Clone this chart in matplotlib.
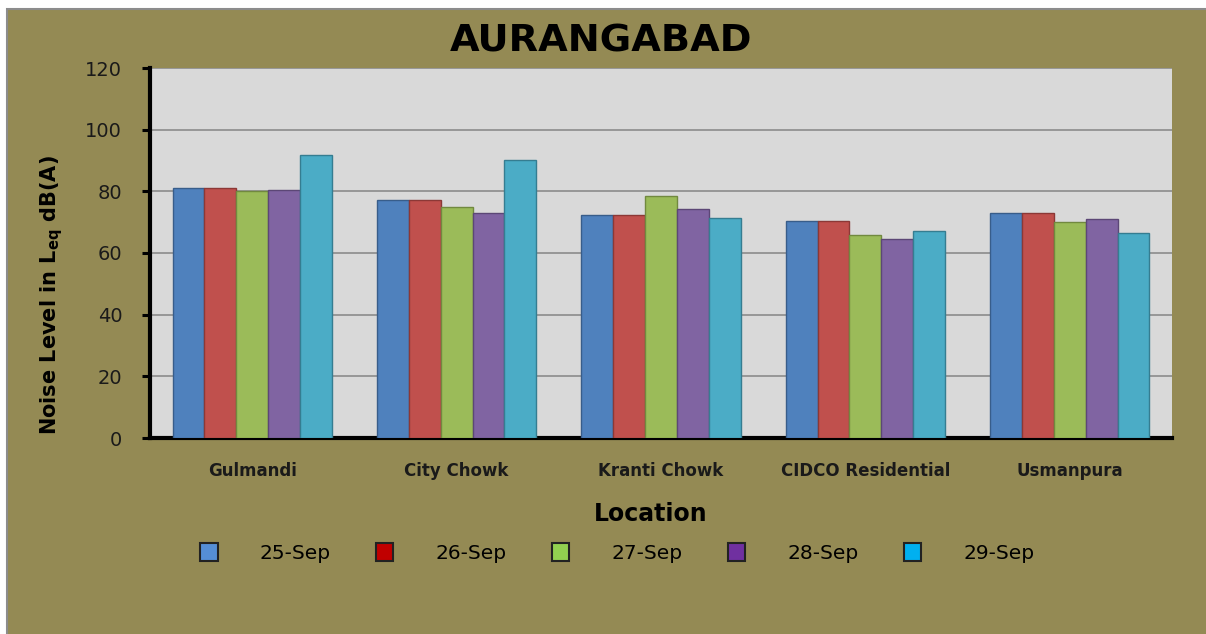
import numpy as np
import matplotlib
matplotlib.use('Agg')
import matplotlib.pyplot as plt
from matplotlib.patches import Rectangle, Patch

# Datos
locations = ['Gulmandi', 'City Chowk', 'Kranti Chowk', 'CIDCO Residential', 'Usmanpura']
dates = ['25-Sep', '26-Sep', '27-Sep', '28-Sep', '29-Sep']
sep25 = [81.0, 77.1, 72.4, 70.4, 73.0]
sep26 = [81.0, 77.1, 72.4, 70.4, 73.0]
sep27 = [80.0, 74.8, 78.5, 66.0, 70.1]
sep28 = [80.4, 73.1, 74.4, 64.5, 71.1]
sep29 = [91.8, 90.1, 71.5, 67.1, 66.5]
yticks = [0, 20, 40, 60, 80, 100, 120]

series = [sep25, sep26, sep27, sep28, sep29]
bar_colors = ['#4F81BD', '#C0504D', '#9BBB59', '#8064A2', '#4BACC6']
edge_colors = ['#385D8A', '#8C3836', '#71893F', '#5C4776', '#357D91']
legend_colors = ['#558ED5', '#C00000', '#92D050', '#7030A0', '#00B0F0']

plt.rcParams['mathtext.fontset'] = 'dejavusans'

fig = plt.figure(figsize=(12.06, 6.34), dpi=100, facecolor='white')

# Panel de fondo color oliva (sale por la derecha y por abajo)
panel = Rectangle((7 / 1206, -0.05), 1.1, 1 - 9 / 634 + 0.05, transform=fig.transFigure,
                  facecolor='#948A54', edgecolor='#8C8C8C', linewidth=1.5, zorder=-10)
fig.patches.append(panel)

ax = fig.add_axes([150 / 1206, 1 - 438 / 634, (1172 - 150) / 1206, (438 - 68) / 634])
ax.set_facecolor('#D9D9D9')

x = np.arange(len(locations))
ancho = 0.1556
for i, vals in enumerate(series):
    ax.bar(x + (i - 2) * ancho, vals, width=ancho, color=bar_colors[i],
           edgecolor=edge_colors[i], linewidth=1.0, zorder=3)

ax.set_xlim(-0.5, len(locations) - 0.5)
ax.set_ylim(0, 120)
ax.set_yticks(yticks)
ax.set_yticklabels([str(t) for t in yticks], fontsize=14, color='#1a1a1a')
ax.set_xticks(x)
ax.set_xticklabels(locations, fontsize=12, fontweight='bold', color='#1a1a1a')
ax.tick_params(axis='x', length=0, pad=17)
ax.tick_params(axis='y', direction='out', length=6, width=2.2, pad=14, color='black')

ax.yaxis.grid(True, color='#8C8C8C', linewidth=1.2, zorder=0)
ax.set_axisbelow(True)
for s in ['top', 'right']:
    ax.spines[s].set_visible(False)
ax.spines['left'].set_linewidth(3)
ax.spines['bottom'].set_linewidth(3)

# Textos
fig.text(601 / 1206, 1 - 42 / 634, 'AURANGABAD', fontsize=27.5, fontweight='bold',
         ha='center', va='center')
fig.text(651 / 1206, 1 - 514 / 634, 'Location', fontsize=17, fontweight='bold',
         ha='center', va='center')
fig.text(52 / 1206, 1 - 295 / 634, r'Noise Level in $\mathbf{L_{eq}}$ dB(A)', fontsize=15,
         fontweight='bold', rotation=90, ha='center', va='center')

handles = [Patch(facecolor=c, edgecolor='#222222', linewidth=1.5) for c in legend_colors]
fig.legend(handles, dates, loc='center', bbox_to_anchor=(0.512, 1 - 553 / 634), ncol=5,
           frameon=False, fontsize=14.5, handlelength=0.85, handleheight=0.95,
           handletextpad=2.1, columnspacing=2.25)

fig.savefig('out.png', dpi=100, facecolor=fig.get_facecolor())
